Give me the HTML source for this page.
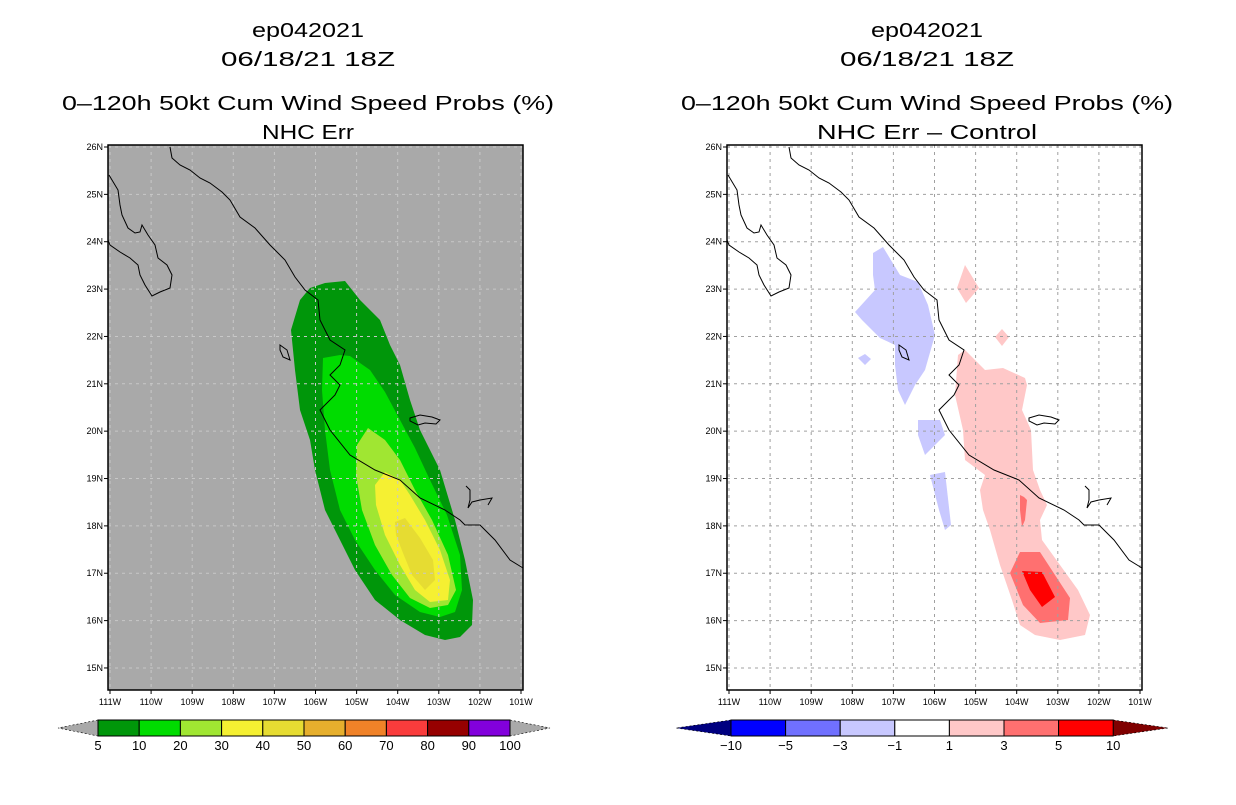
<!DOCTYPE html>
<html><head><meta charset="utf-8"><style>
body{margin:0;background:#fff;width:1236px;height:800px;overflow:hidden;font-family:"Liberation Sans",sans-serif}
svg text{font-family:"Liberation Sans",sans-serif}
</style></head><body>
<svg id="s" width="1236" height="800" xmlns="http://www.w3.org/2000/svg">
<g font-size="20" text-anchor="middle" fill="#000" lengthAdjust="spacingAndGlyphs">
<text x="308" y="37" textLength="112" lengthAdjust="spacingAndGlyphs">ep042021</text>
<text x="308" y="66" textLength="174" lengthAdjust="spacingAndGlyphs">06/18/21 18Z</text>
<text x="308" y="110" textLength="492" lengthAdjust="spacingAndGlyphs">0–120h 50kt Cum Wind Speed Probs (%)</text>
<text x="308" y="139" textLength="92" lengthAdjust="spacingAndGlyphs">NHC Err</text>
<text x="927" y="37" textLength="112" lengthAdjust="spacingAndGlyphs">ep042021</text>
<text x="927" y="66" textLength="174" lengthAdjust="spacingAndGlyphs">06/18/21 18Z</text>
<text x="927" y="110" textLength="492" lengthAdjust="spacingAndGlyphs">0–120h 50kt Cum Wind Speed Probs (%)</text>
<text x="927" y="139" textLength="220" lengthAdjust="spacingAndGlyphs">NHC Err – Control</text>
</g>
<g id="L">
<rect x="108" y="145" width="415" height="545" fill="#a9a9a9"/>
<polygon fill="#00960a" points="300,300 310,288 325,283 345,281 360,300 380,320 390,345 400,365 410,400 420,430 440,470 455,520 465,560 473,600 472,625 460,637 445,640 425,635 400,620 375,600 355,570 340,540 325,510 315,470 310,440 300,410 295,370 291,330"/>
<polygon fill="#00dc00" points="323,358 340,355 350,356 370,370 385,392 400,420 415,448 430,480 447,515 460,555 462,590 455,612 440,617 420,612 395,595 375,570 355,540 340,510 330,470 325,430 322,390"/>
<polygon fill="#a0e632" points="357,445 368,428 385,440 400,460 415,490 432,520 448,555 456,590 448,605 430,608 410,598 392,575 375,545 362,510 356,475"/>
<polygon fill="#f5f032" points="375,485 385,472 400,480 410,495 425,520 440,550 450,580 448,600 430,602 415,590 400,565 385,535 376,505"/>
<polygon fill="#e6dc32" points="395,522 405,518 420,538 433,560 435,580 425,590 412,575 403,553 396,535"/>
</g>
<g id="R">
<rect x="727" y="145" width="414" height="545" fill="#fff"/>
<g fill="#c8c8ff">
<polygon points="873,253 883,247 900,275 918,282 928,305 935,335 925,370 915,385 905,405 898,390 895,365 895,345 880,338 862,320 855,312 875,290 873,275"/>
<polygon points="858,358 865,354 871,359 865,365"/>
<polygon points="918,420 940,420 945,435 925,455 918,435"/>
<polygon points="930,475 945,472 951,525 945,530 939,510"/>
</g>
<g fill="#ffc8c8">
<polygon points="957,288 965,265 979,288 966,303"/>
<polygon points="995,337 1002,329 1009,337 1002,346"/>
<polygon points="958,355 965,350 985,370 1003,368 1025,378 1027,385 1022,410 1031,430 1033,470 1040,490 1047,505 1040,520 1042,540 1060,565 1078,590 1090,615 1085,635 1060,640 1035,635 1020,625 1012,600 1000,565 990,530 983,510 980,490 985,475 965,460 963,430 955,395"/>
</g>
<g fill="#ff7070">
<polygon points="1020,552 1040,552 1070,598 1068,620 1040,623 1023,605 1010,573"/>
<polygon points="1020,495 1024,497 1027,500 1025,520 1022,527 1020,510"/>
</g>
<polygon fill="#ff0000" points="1022,571 1042,572 1055,597 1042,607 1030,590"/>
</g>
</svg>
<script>
const svg=document.getElementById('s');
const NS='http://www.w3.org/2000/svg';
const lonTicks=[111,110,109,108,107,106,105,104,103,102,101];
const latTicks=[26,25,24,23,22,21,20,19,18,17,16,15];
const probLevels=['5','10','20','30','40','50','60','70','80','90','100'];
const probColors=['#00960a','#00dc00','#a0e632','#f5f032','#e6dc32','#e6af2d','#f08228','#fa3c3c','#960000','#8200dc'];
const diffLevels=['−10','−5','−3','−1','1','3','5','10'];
const diffColors=['#0000ff','#7070ff','#c8c8ff','#ffffff','#ffc8c8','#ff7070','#ff0000'];
function xs(w){return 110+(111-w)*41.1;}
function ys(l){return 147+(26-l)*47.36;}
function mk(t,a,p){const e=document.createElementNS(NS,t);for(const k in a)e.setAttribute(k,a[k]);(p||svg).appendChild(e);return e;}
const coast="170,147 172,158 180,165 190,170 200,178 210,183 222,192 230,200 240,217 255,228 270,245 285,260 295,277 305,290 318,300 320,320 330,340 345,350 340,365 330,375 340,385 335,395 320,410 330,430 350,455 375,470 400,480 420,498 445,510 460,520 465,525 480,525 495,540 510,560 523,568";
const baja="109,175 118,190 120,205 122,215 128,228 135,233 140,232 142,225 148,235 155,245 158,258 167,265 172,275 170,288 160,292 152,296 145,285 140,275 138,265 130,258 120,252 110,245 108,240";
const chapala="410,418 420,415 432,417 440,420 436,424 425,423 418,425 410,421";
const tresm="280,345 287,350 290,360 283,357 280,350";
const inland="466,486 470,490 470,500 468,508 472,502 480,500 492,498 488,505";
[[0,'left'],[619,'right']].forEach(([off,side])=>{
  const g=mk('g',{transform:'translate('+off+',0)'});
  
  
  const gc=side==='left'?'#c8c8c8':'#a0a0a0';
  lonTicks.forEach(w=>{const x=xs(w);
    const l=mk('line',{x1:x,x2:x,y1:145,y2:690,stroke:gc,'stroke-dasharray':'3,4'},g);
    
    mk('line',{x1:x,x2:x,y1:690,y2:694,stroke:'#000'},g);
    const t=mk('text',{x:x,y:705,'font-size':9,'text-anchor':'middle'},g);t.textContent=w+'W';
    });
  latTicks.forEach(l=>{const y=ys(l);
    const ln=mk('line',{x1:108,x2:523,y1:y,y2:y,stroke:gc,'stroke-dasharray':'3,4'},g);
    
    mk('line',{x1:104,x2:108,y1:y,y2:y,stroke:'#000'},g);
    const t=mk('text',{x:103,y:y+3,'font-size':9,'text-anchor':'end'},g);t.textContent=l+'N';
    });
  [coast,baja,inland].forEach(p=>{const c=mk('polyline',{points:p,fill:'none',stroke:'#000','stroke-width':1},g);
    });
  [chapala,tresm].forEach(p=>{const c=mk('polygon',{points:p,fill:'none',stroke:'#000','stroke-width':1},g);
    });
  const fr=mk('rect',{x:108,y:145,width:415,height:545,fill:'none',stroke:'#000','stroke-width':1.5},g);
  
});
function colorbar(x0,w,levels,colors,tipL,tipR,tipLen,name){
  const g=mk('g',{});
  const y0=720,h=16,n=colors.length;
  const a=mk('polygon',{points:`${x0},${y0} ${x0-tipLen},${y0+h/2} ${x0},${y0+h}`,fill:tipL,stroke:'#000','stroke-dasharray':'2,2','stroke-width':0.6},g);
  
  const xe=x0+n*w;
  const b=mk('polygon',{points:`${xe},${y0} ${xe+tipLen},${y0+h/2} ${xe},${y0+h}`,fill:tipR,stroke:'#000','stroke-dasharray':'2,2','stroke-width':0.6},g);
  
  colors.forEach((c,i)=>{const r=mk('rect',{x:x0+i*w,y:y0,width:w,height:h,fill:c,stroke:'#000','stroke-width':1},g);
    });
  levels.forEach((l,i)=>{const t=mk('text',{x:x0+i*w,y:750,'font-size':13,'text-anchor':'middle'},g);t.textContent=l;
    });
}
colorbar(98,41.2,probLevels,probColors,'#a9a9a9','#a9a9a9',40,'left-colorbar');
colorbar(731,54.6,diffLevels,diffColors,'#000080','#800000',55,'right-colorbar');
</script>
</body></html>
